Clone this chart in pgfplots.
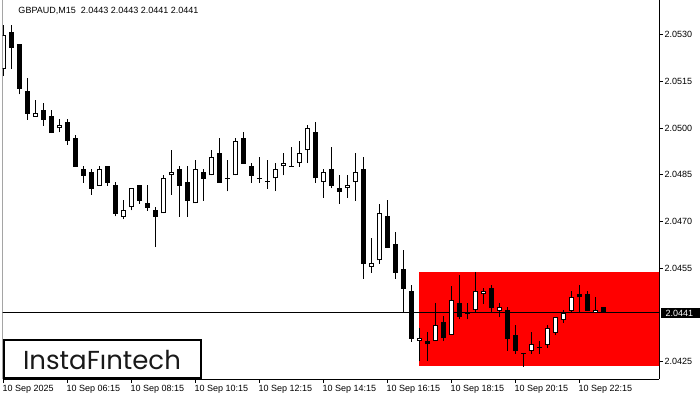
\documentclass[border=0pt]{standalone}
\usepackage{fontspec}
\setmainfont{Liberation Sans}
\newfontfamily\logofont{Poppins}
\usepackage{pgfplots}
\pgfplotsset{compat=1.18}
\usepackage{pgfplotstable}

% GBPAUD M15 candles, x = bar index (8 px per bar)
\pgfplotstableread{
x  o       h       l       c
0  2.05189 2.05331 2.05167 2.05299
4  2.05037 2.05090 2.05037 2.05047
7  2.04999 2.05029 2.04986 2.05010
12 2.04815 2.04878 2.04815 2.04867
15 2.04715 2.04769 2.04706 2.04737
16 2.04745 2.04806 2.04735 2.04806
20 2.04726 2.04848 2.04726 2.04838
21 2.04848 2.04929 2.04786 2.04858
24 2.04758 2.04897 2.04758 2.04867
26 2.04848 2.04929 2.04848 2.04906
29 2.04848 2.04968 2.04848 2.04957
34 2.04838 2.04887 2.04797 2.04867
35 2.04877 2.04919 2.04848 2.04887
37 2.04887 2.04958 2.04876 2.04919
38 2.04928 2.05010 2.04887 2.04999
40 2.04826 2.04868 2.04776 2.04858
43 2.04806 2.04849 2.04776 2.04816
44 2.04826 2.04919 2.04766 2.04858
46 2.04554 2.04646 2.04535 2.04565
47 2.04575 2.04755 2.04564 2.04726
52 2.04315 2.04358 2.04252 2.04324
54 2.04315 2.04438 2.04315 2.04366
56 2.04334 2.04493 2.04334 2.04447
59 2.04414 2.04537 2.04405 2.04475
60 2.04465 2.04486 2.04434 2.04475
62 2.04413 2.04437 2.04394 2.04424
66 2.04284 2.04344 2.04275 2.04305
68 2.04304 2.04366 2.04294 2.04356
69 2.04342 2.04394 2.04334 2.04394
70 2.04384 2.04415 2.04373 2.04405
71 2.04413 2.04475 2.04405 2.04456
74 2.04405 2.04456 2.04405 2.04415
}\bull

\pgfplotstableread{
x  o       h       l       c
1  2.05308 2.05331 2.05189 2.05258
2  2.05270 2.05270 2.05108 2.05126
3  2.05119 2.05161 2.05027 2.05046
5  2.05058 2.05080 2.05007 2.05027
6  2.05039 2.05058 2.04984 2.04984
8  2.05019 2.05030 2.04946 2.04957
9  2.04968 2.04978 2.04876 2.04876
10 2.04868 2.04879 2.04824 2.04847
11 2.04859 2.04868 2.04786 2.04805
13 2.04878 2.04878 2.04815 2.04824
14 2.04817 2.04827 2.04716 2.04725
17 2.04817 2.04817 2.04756 2.04766
18 2.04759 2.04817 2.04734 2.04744
19 2.04737 2.04746 2.04617 2.04715
22 2.04868 2.04878 2.04715 2.04815
23 2.04827 2.04878 2.04715 2.04766
25 2.04859 2.04868 2.04766 2.04837
27 2.04919 2.04968 2.04824 2.04824
28 2.04840 2.04897 2.04796 2.04837
30 2.04968 2.04987 2.04885 2.04885
31 2.04878 2.04887 2.04824 2.04847
32 2.04839 2.04907 2.04824 2.04836
33 2.04829 2.04897 2.04805 2.04826
36 2.04879 2.04939 2.04876 2.04876
39 2.04987 2.05020 2.04824 2.04838
41 2.04868 2.04939 2.04806 2.04815
42 2.04806 2.04849 2.04757 2.04795
45 2.04868 2.04907 2.04515 2.04564
48 2.04717 2.04769 2.04615 2.04615
49 2.04628 2.04665 2.04515 2.04535
50 2.04546 2.04608 2.04406 2.04484
51 2.04476 2.04495 2.04313 2.04323
53 2.04315 2.04344 2.04252 2.04305
55 2.04376 2.04396 2.04315 2.04324
57 2.04437 2.04527 2.04385 2.04394
58 2.04407 2.04436 2.04385 2.04404
61 2.04486 2.04495 2.04406 2.04422
63 2.04415 2.04424 2.04284 2.04322
64 2.04334 2.04366 2.04275 2.04284
65 2.04277 2.04277 2.04233 2.04274
67 2.04297 2.04315 2.04275 2.04294
72 2.04467 2.04495 2.04405 2.04456
73 2.04467 2.04475 2.04413 2.04413
75 2.04425 2.04425 2.04406 2.04406
}\bear

\def\dpx{0.0000321} % one pixel in price units

\begin{document}
\begin{tikzpicture}[x=1bp,y=1bp]
  \useasboundingbox (0,0) rectangle (700,400);
  \def\lbl{\fontsize{9bp}{10bp}\selectfont}

  \begin{axis}[
    at={(2.5bp,21bp)}, anchor=south west,
    scale only axis, width=656.5bp, height=379bp,
    xmin=-0.125, xmax=81.94,
    ymin=2.041933, ymax=2.054115,
    axis x line*=bottom, axis y line*=right,
    axis line style={black, line width=1bp},
    tick align=outside, major tick length=3.5bp,
    tick style={black, line width=1bp},
    xtick={0,8,...,72},
    xticklabels={10 Sep 2025,10 Sep 06:15,10 Sep 08:15,10 Sep 10:15,10 Sep 12:15,
      10 Sep 14:15,10 Sep 16:15,10 Sep 18:15,10 Sep 20:15,10 Sep 22:15},
    xticklabel style={anchor=north west, inner sep=0pt, font=\lbl, xshift=-1bp, yshift=-3bp},
    ytick={2.0425,2.0455,2.0470,2.0485,2.0500,2.0515,2.0530},
    yticklabels={2.0425,2.0455,2.0470,2.0485,2.0500,2.0515,2.0530},
    yticklabel style={anchor=west, inner sep=0pt, font=\lbl, xshift=2bp},
    candle/.style 2 args={draw=none, mark=none, forget plot,
      error bars/.cd, y dir=plus, y explicit, error mark=none,
      error bar style={draw=#1, line width=#2}},
  ]
    % pattern zone
    \fill[red] (axis cs:51.94,2.04236) rectangle (axis cs:90,2.04538);
    % current price line
    \draw[black, line width=1bp] (axis cs:-5,2.04406) -- (axis cs:90,2.04406);
    % left border
    \draw[black, line width=1bp] (rel axis cs:0,0) -- (rel axis cs:0,1);

    % wicks
    \addplot[candle={black}{1bp}]
      table[x=x, y=l, y error plus expr=\thisrow{h}-\thisrow{l}] {\bull};
    \addplot[candle={black}{1bp}]
      table[x=x, y=l, y error plus expr=\thisrow{h}-\thisrow{l}] {\bear};

    % bearish bodies
    \addplot[candle={black}{5bp}]
      table[x=x, y=c, y error plus expr=\thisrow{o}-\thisrow{c}] {\bear};

    % bullish bodies: outline then white inside
    \addplot[candle={black}{5bp}]
      table[x=x, y=o, y error plus expr=\thisrow{c}-\thisrow{o}] {\bull};
    \addplot[candle={white}{3bp}]
      table[x=x, y expr=\thisrow{o}+\dpx, y error plus expr=\thisrow{c}-\thisrow{o}-2*\dpx] {\bull};
  \end{axis}

  % title
  \node[anchor=base west, inner sep=0pt, font=\lbl] at (18.3,386.7)
    {GBPAUD,M15\ \ 2.0443 2.0443 2.0441 2.0441};

  % current price tag
  \fill[black] (661,81.7) rectangle (700,92.3);
  \node[anchor=west, inner sep=0pt, font=\lbl, text=white] at (665.3,87) {2.0441};

  % logo
  \draw[black, line width=2bp, fill=white] (3.7,22) rectangle (201,60);
  \node[anchor=base, inner sep=0pt, font=\logofont\fontsize{26bp}{28bp}\selectfont, text=black!90]
    at (102,31) {InstaFıntech};
\end{tikzpicture}
\end{document}
